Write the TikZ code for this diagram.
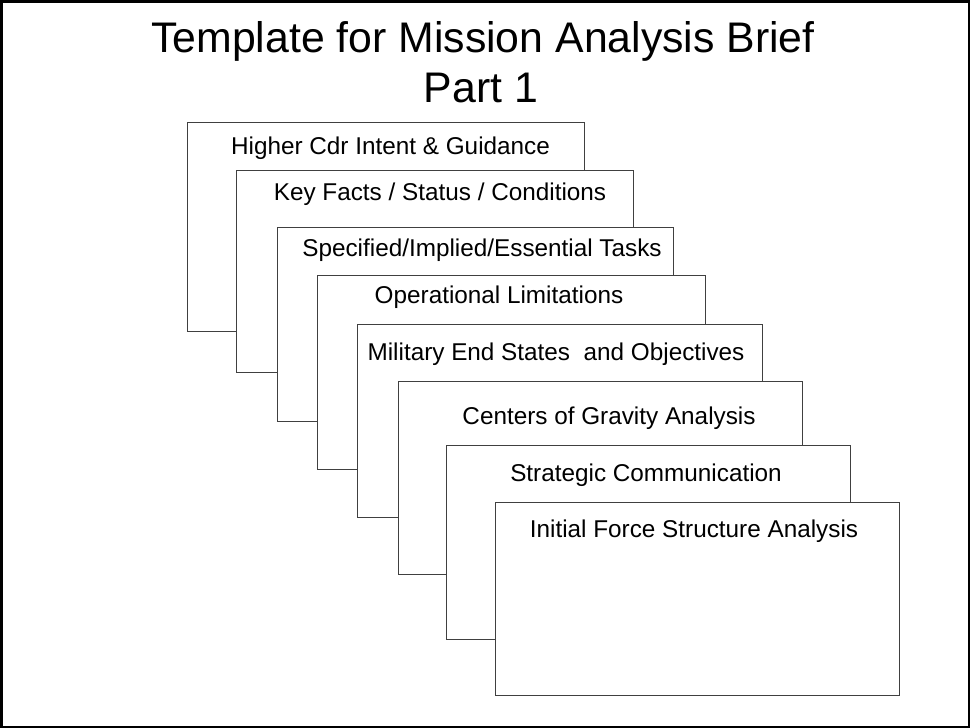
\documentclass[tikz,border=0pt]{standalone}
\usepackage{fontspec}
\setmainfont{Liberation Sans}
\usetikzlibrary{positioning}

\begin{document}
\begin{tikzpicture}[x=0.7407pt,y=-0.7407pt,
    frame/.style={draw=black,line width=2pt},
    card/.style 2 args={draw=black!75,fill=white,line width=0.8pt,anchor=north west,
                inner sep=0pt,minimum width=#1*0.7407pt,minimum height=#2*0.7407pt},
    cardtext/.style={anchor=base,inner sep=0pt,font=\fontsize{18}{21}\selectfont},
    headline/.style={anchor=base,inner sep=0pt,font=\fontsize{31.7}{38}\selectfont}]
  \useasboundingbox (0,0) rectangle (972,728);
  \draw[frame] (1.3,1.3) rectangle (969,727);
  % title
  \node[headline] (title) at (483,52.7) {Template for Mission Analysis Brief};
  \node[headline] (part)  at (481,102.7) {Part 1};
  % stacked cards, back to front
  \node[card={397}{209}] (b1) at (187,122) {};
  \node[cardtext] (t1) at (390.5,154) {Higher Cdr Intent \& Guidance};
  \node[card={397}{202}] (b2) at (236,170) {};
  \node[cardtext] (t2) at (440,200) {Key Facts / Status / Conditions};
  \node[card={396}{194}] (b3) at (277,227) {};
  \node[cardtext] (t3) at (482,256) {Specified/Implied/Essential Tasks};
  \node[card={388}{194}] (b4) at (317,275) {};
  \node[cardtext] (t4) at (499,303) {Operational Limitations};
  \node[card={405}{193}] (b5) at (357,324) {};
  \node[cardtext] (t5) at (556,360) {Military End States~ and Objectives};
  \node[card={404}{193}] (b6) at (398,381) {};
  \node[cardtext] (t6) at (609,424) {Centers of Gravity Analysis};
  \node[card={404}{194}] (b7) at (446,445) {};
  \node[cardtext] (t7) at (646,481) {Strategic Communication};
  \node[card={404}{193}] (b8) at (495,502) {};
  \node[cardtext] (t8) at (694,537) {Initial Force Structure Analysis};
\end{tikzpicture}
\end{document}
